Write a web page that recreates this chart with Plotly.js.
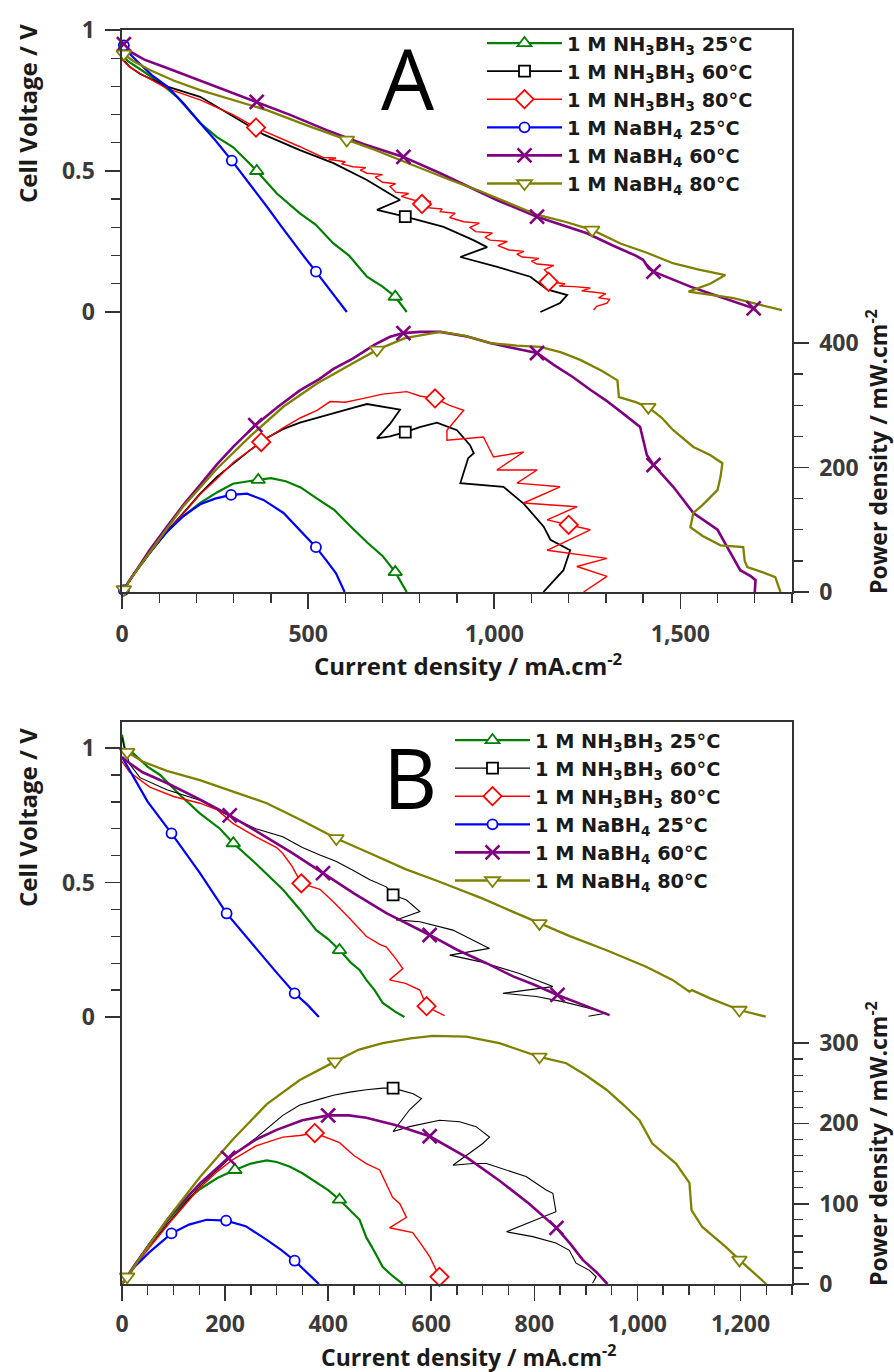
<!DOCTYPE html>
<html><head><meta charset="utf-8">
<script src="https://cdn.plot.ly/plotly-3.0.1.min.js"></script>
<style>
html,body{margin:0;padding:0;background:#fff}
#chart{width:894px;height:1372px}
</style>
</head><body><div id="chart"></div>
<script>
// ---------- labels ----------
const seriesNames = [
  '1 M NH<sub>3</sub>BH<sub>3</sub> 25°C',
  '1 M NH<sub>3</sub>BH<sub>3</sub> 60°C',
  '1 M NH<sub>3</sub>BH<sub>3</sub> 80°C',
  '1 M NaBH<sub>4</sub> 25°C',
  '1 M NaBH<sub>4</sub> 60°C',
  '1 M NaBH<sub>4</sub> 80°C'
];
const xTitle = 'Current density / mA.cm<sup>-2</sup>';
const yTitleV = 'Cell Voltage / V';
const yTitleP = 'Power density / mW.cm<sup>-2</sup>';
const panelLetters = ['A', 'B'];
const vTickVals = [0, 0.5, 1];
const vTickText = ['0', '0.5', '1'];
const vMinorVals = [0.1, 0.2, 0.3, 0.4, 0.6, 0.7, 0.8, 0.9];
const pTickValsA = [0, 200, 400];
const pMinorValsA = [50, 100, 150, 250, 300, 350];
const pTickValsB = [0, 100, 200, 300];
const pMinorValsB = [20, 40, 60, 80, 120, 140, 160, 180, 220, 240, 260, 280];

// ---------- Panel A : [current density mA/cm2, cell voltage V] ----------
const A_V_NH3_25 = [[0,0.92],[15,0.89],[50,0.86],[100,0.815],[150,0.76],[210,0.67],[255,0.62],[298,0.585],[340,0.53],[362,0.50],[416,0.42],[478,0.35],[520,0.31],[568,0.243],[610,0.20],[658,0.125],[700,0.09],[734,0.054],[765,0.0]];
const A_V_NH3_60 = [[0,0.90],[20,0.87],[48,0.845],[120,0.80],[210,0.763],[299,0.692],[380,0.63],[478,0.574],[568,0.528],[658,0.468],[729,0.409],[747,0.397],[685,0.362],[761,0.338],[864,0.302],[944,0.255],[981,0.23],[909,0.195],[1008,0.16],[1097,0.125],[1142,0.08],[1196,0.06],[1177,0.032],[1124,0.0]];
const A_V_NH3_80 = [[0,0.894],[20,0.87],[48,0.846],[120,0.793],[210,0.752],[299,0.699],[360,0.654],[420,0.62],[478,0.586],[540,0.548],[575,0.546],[555,0.54],[568,0.539],[600,0.533],[590,0.525],[620,0.515],[655,0.512],[640,0.503],[658,0.492],[700,0.487],[680,0.478],[700,0.46],[735,0.455],[720,0.445],[735,0.425],[770,0.42],[750,0.41],[783,0.397],[830,0.392],[806,0.383],[820,0.37],[860,0.365],[855,0.356],[895,0.35],[880,0.335],[918,0.32],[960,0.315],[935,0.30],[950,0.285],[995,0.28],[975,0.265],[989,0.255],[1035,0.25],[1010,0.235],[1040,0.22],[1080,0.215],[1061,0.205],[1075,0.195],[1120,0.19],[1100,0.18],[1115,0.17],[1160,0.165],[1135,0.15],[1150,0.13],[1140,0.115],[1146,0.107],[1190,0.10],[1175,0.092],[1215,0.09],[1258,0.085],[1235,0.075],[1270,0.07],[1300,0.065],[1280,0.05],[1310,0.045],[1303,0.031],[1275,0.02],[1267,0.007]];
const A_V_Na_25 = [[0,0.95],[10,0.93],[40,0.89],[80,0.84],[121,0.80],[165,0.74],[210,0.67],[250,0.61],[295,0.537],[340,0.46],[389,0.374],[430,0.30],[461,0.244],[490,0.195],[521,0.143],[560,0.075],[590,0.025],[604,0.0]];
const A_V_Na_60 = [[0,0.96],[5,0.95],[20,0.925],[60,0.895],[121,0.865],[210,0.82],[290,0.78],[362,0.745],[450,0.70],[550,0.645],[650,0.595],[756,0.55],[855,0.492],[930,0.445],[1007,0.397],[1115,0.338],[1180,0.31],[1249,0.279],[1320,0.235],[1380,0.20],[1400,0.185],[1415,0.155],[1428,0.143],[1480,0.115],[1527,0.09],[1570,0.07],[1616,0.049],[1660,0.03],[1697,0.013],[1702,0.005]];
const A_V_Na_80 = [[0,0.92],[5,0.915],[30,0.89],[75,0.858],[140,0.82],[210,0.787],[300,0.75],[389,0.716],[500,0.66],[604,0.61],[680,0.575],[747,0.539],[820,0.50],[882,0.468],[960,0.43],[1040,0.385],[1115,0.345],[1190,0.32],[1263,0.291],[1339,0.243],[1410,0.21],[1482,0.172],[1550,0.15],[1621,0.131],[1580,0.10],[1522,0.072],[1580,0.06],[1643,0.049],[1715,0.025],[1773,0.007]];

// Panel A : [current density, power density mW/cm2]
const A_P_NH3_25 = [[0,0],[30,27],[75,63],[120,98],[165,122],[210,143],[255,160],[298,174],[340,178],[366,180],[400,183],[440,178],[480,168],[524,150],[570,132],[613,106],[658,80],[700,58],[734,32],[765,0]];
const A_P_NH3_60 = [[0,0],[35,31],[75,63],[120,97],[165,127],[210,158],[255,185],[300,207],[344,228],[390,248],[434,262],[478,272],[524,280],[568,288],[620,296],[658,302],[703,297],[747,293],[720,270],[685,247],[720,250],[761,257],[800,265],[846,272],[900,260],[935,236],[945,223],[930,215],[909,175],[960,172],[1025,169],[1079,142],[1133,105],[1151,84],[1204,67],[1186,35],[1160,18],[1132,0]];
const A_P_NH3_80 = [[0,0],[35,31],[75,64],[120,96],[165,126],[210,157],[255,182],[300,209],[374,241],[434,264],[480,280],[524,292],[559,306],[600,305],[649,311],[700,318],[765,322],[800,315],[841,311],[880,300],[918,292],[873,260],[873,244],[971,249],[998,217],[1079,225],[1007,196],[1115,196],[1061,175],[1177,169],[1079,143],[1222,137],[1142,116],[1200,108],[1258,100],[1142,67],[1303,54],[1222,41],[1303,25],[1240,0]];
const A_P_Na_25 = [[0,0],[30,28],[75,64],[120,96],[165,122],[210,141],[250,150],[293,156],[336,158],[380,148],[434,127],[480,98],[521,72],[550,50],[575,30],[598,0]];
const A_P_Na_60 = [[0,0],[30,28],[75,68],[121,105],[165,140],[210,172],[255,205],[300,234],[358,268],[420,298],[478,324],[530,342],[567,358],[620,375],[680,398],[720,410],[756,416],[800,418],[855,418],[930,410],[989,400],[1050,392],[1115,384],[1160,365],[1212,345],[1258,325],[1300,308],[1350,285],[1392,265],[1400,245],[1410,220],[1428,204],[1481,169],[1535,127],[1580,108],[1600,100],[1626,72],[1661,35],[1690,25],[1702,19],[1700,0]];
const A_P_Na_80 = [[0,0],[5,4],[30,27],[75,64],[165,138],[255,198],[344,250],[434,298],[524,335],[613,365],[685,389],[760,408],[820,415],[855,418],[920,412],[989,400],[1060,396],[1124,394],[1180,385],[1231,373],[1290,355],[1331,340],[1335,313],[1380,305],[1414,297],[1450,280],[1481,260],[1535,233],[1580,220],[1613,207],[1608,185],[1600,164],[1560,140],[1535,127],[1527,104],[1560,90],[1608,75],[1669,72],[1673,50],[1680,40],[1720,32],[1755,24],[1769,0]];

// Panel A marker positions
const A_VM_NH3_25 = [[362,0.50],[734,0.054]];
const A_VM_NH3_60 = [[761,0.338]];
const A_VM_NH3_80 = [[360,0.654],[806,0.383],[1146,0.107]];
const A_VM_Na_25 = [[5,0.945],[295,0.537],[521,0.143]];
const A_VM_Na_60 = [[5,0.95],[362,0.745],[756,0.55],[1115,0.338],[1428,0.143],[1697,0.013]];
const A_VM_Na_80 = [[5,0.915],[604,0.61],[1263,0.291]];
const A_PM_NH3_25 = [[366,180],[734,32]];
const A_PM_NH3_60 = [[761,257]];
const A_PM_NH3_80 = [[374,241],[841,311],[1200,108]];
const A_PM_Na_25 = [[5,3],[293,156],[521,72]];
const A_PM_Na_60 = [[358,268],[756,416],[1115,384],[1428,204]];
const A_PM_Na_80 = [[5,4],[685,389],[1414,297]];

// ---------- Panel B : [current density, cell voltage] ----------
const B_V_NH3_25 = [[0,1.05],[5,1.0],[22,0.98],[50,0.93],[74,0.90],[110,0.83],[151,0.757],[190,0.70],[216,0.646],[260,0.57],[313,0.472],[345,0.40],[377,0.323],[400,0.29],[422,0.249],[445,0.20],[461,0.175],[474,0.138],[490,0.10],[506,0.052],[530,0.02],[548,0.0]];
const B_V_NH3_60 = [[0,1.04],[5,1.0],[15,0.94],[35,0.89],[87,0.845],[151,0.806],[215,0.74],[260,0.70],[312,0.67],[350,0.63],[384,0.602],[416,0.578],[448,0.546],[481,0.51],[513,0.484],[526,0.454],[552,0.435],[578,0.392],[532,0.361],[578,0.354],[642,0.323],[694,0.274],[713,0.255],[636,0.23],[694,0.206],[771,0.162],[836,0.113],[739,0.088],[804,0.076],[855,0.057],[920,0.026],[939,0.014],[905,0.003]];
const B_V_NH3_80 = [[0,0.95],[15,0.91],[54,0.855],[100,0.82],[151,0.795],[185,0.77],[215,0.72],[260,0.67],[300,0.63],[312,0.608],[330,0.56],[348,0.497],[384,0.475],[409,0.43],[440,0.37],[474,0.30],[500,0.27],[513,0.26],[530,0.22],[545,0.18],[519,0.138],[550,0.125],[578,0.10],[591,0.04],[610,0.02],[626,0.005]];
const B_V_Na_25 = [[0,0.967],[20,0.90],[50,0.80],[96,0.683],[151,0.536],[203,0.385],[240,0.30],[267,0.237],[300,0.165],[335,0.088],[360,0.045],[382,0.0]];
const B_V_Na_60 = [[0,0.967],[10,0.95],[40,0.91],[87,0.87],[150,0.81],[209,0.75],[270,0.68],[330,0.61],[390,0.535],[450,0.46],[513,0.386],[560,0.34],[597,0.305],[650,0.25],[707,0.20],[760,0.15],[800,0.12],[845,0.082],[900,0.04],[946,0.007]];
const B_V_Na_80 = [[0,1.0],[10,0.985],[40,0.95],[87,0.915],[151,0.881],[215,0.84],[281,0.795],[350,0.73],[416,0.664],[480,0.61],[550,0.55],[616,0.503],[700,0.44],[760,0.39],[810,0.348],[870,0.30],[939,0.249],[980,0.215],[1017,0.187],[1068,0.138],[1090,0.11],[1101,0.094],[1106,0.10],[1140,0.07],[1198,0.026],[1249,0.001]];

// Panel B : [current density, power density]
const B_P_NH3_25 = [[0,0],[22,20],[54,51],[90,80],[118,100],[151,118],[185,132],[219,142],[250,150],[281,154],[300,152],[326,146],[350,138],[378,126],[400,117],[422,105],[445,90],[461,80],[474,58],[485,46],[506,21],[525,10],[545,0]];
const B_P_NH3_60 = [[0,0],[35,32],[87,74],[151,122],[215,160],[260,182],[312,210],[345,223],[377,229],[410,235],[442,239],[474,242],[506,244],[526,244],[565,237],[581,231],[558,217],[526,190],[558,196],[590,200],[616,204],[655,202],[687,196],[713,183],[700,175],[642,148],[681,150],[707,150],[746,142],[784,134],[823,117],[836,113],[842,90],[746,65],[797,59],[842,51],[868,42],[881,26],[907,17],[920,9],[913,1]];
const B_P_NH3_80 = [[0,0],[20,18],[54,46],[100,82],[151,120],[185,140],[215,155],[260,172],[312,183],[345,185],[374,188],[400,182],[422,176],[450,160],[474,150],[500,142],[525,108],[539,100],[552,83],[519,70],[564,64],[580,50],[597,34],[616,9],[620,0]];
const B_P_Na_25 = [[0,0],[25,22],[54,40],[96,63],[130,74],[164,80],[202,79],[240,72],[281,55],[310,42],[335,29],[360,14],[382,0]];
const B_P_Na_60 = [[0,0],[25,24],[54,50],[100,90],[151,125],[206,157],[260,180],[300,192],[350,204],[400,210],[440,210],[474,207],[530,198],[597,184],[668,158],[732,129],[790,100],[843,70],[870,50],[894,30],[920,15],[942,0]];
const B_P_Na_80 = [[0,0],[10,9],[40,37],[87,80],[151,133],[215,180],[281,224],[345,254],[413,277],[460,292],[506,300],[560,306],[603,309],[668,308],[732,300],[810,283],[862,275],[900,260],[940,242],[975,222],[1004,204],[1029,175],[1060,158],[1075,150],[1101,126],[1105,92],[1126,71],[1150,58],[1172,46],[1198,30],[1225,15],[1250,0]];

// Panel B marker positions
const B_VM_NH3_25 = [[216,0.646],[422,0.249]];
const B_VM_NH3_60 = [[526,0.454]];
const B_VM_NH3_80 = [[348,0.497],[591,0.04]];
const B_VM_Na_25 = [[96,0.683],[203,0.385],[335,0.088]];
const B_VM_Na_60 = [[209,0.75],[390,0.535],[597,0.305],[845,0.082]];
const B_VM_Na_80 = [[10,0.985],[416,0.664],[810,0.348],[1198,0.026]];
const B_PM_NH3_25 = [[219,142],[422,105]];
const B_PM_NH3_60 = [[526,244]];
const B_PM_NH3_80 = [[374,188],[616,9]];
const B_PM_Na_25 = [[96,63],[202,79],[335,29]];
const B_PM_Na_60 = [[206,157],[400,210],[597,184],[843,70]];
const B_PM_Na_80 = [[10,9],[413,277],[810,283],[1198,30]];

// ---------- styles ----------
const colors = ['#008000', '#000000', '#ff0000', '#0000ff', '#800080', '#808000'];
const symbols = ['triangle-up', 'square', 'diamond', 'circle', 'x-thin', 'triangle-down'];
const markerSizes = [12, 11, 14, 10, 14, 13];
const lineWidthsA = [2.2, 1.8, 1.4, 2.2, 2.6, 2.3];
const lineWidthsB = [2.2, 1.1, 1.4, 2.2, 2.6, 2.3];

const panels = [
  { V: [A_V_NH3_25, A_V_NH3_60, A_V_NH3_80, A_V_Na_25, A_V_Na_60, A_V_Na_80],
    P: [A_P_NH3_25, A_P_NH3_60, A_P_NH3_80, A_P_Na_25, A_P_Na_60, A_P_Na_80],
    VM: [A_VM_NH3_25, A_VM_NH3_60, A_VM_NH3_80, A_VM_Na_25, A_VM_Na_60, A_VM_Na_80],
    PM: [A_PM_NH3_25, A_PM_NH3_60, A_PM_NH3_80, A_PM_Na_25, A_PM_Na_60, A_PM_Na_80],
    xa: 'x', yv: 'y', yp: 'y2', legend: 'legend', widths: lineWidthsA },
  { V: [B_V_NH3_25, B_V_NH3_60, B_V_NH3_80, B_V_Na_25, B_V_Na_60, B_V_Na_80],
    P: [B_P_NH3_25, B_P_NH3_60, B_P_NH3_80, B_P_Na_25, B_P_Na_60, B_P_Na_80],
    VM: [B_VM_NH3_25, B_VM_NH3_60, B_VM_NH3_80, B_VM_Na_25, B_VM_Na_60, B_VM_Na_80],
    PM: [B_PM_NH3_25, B_PM_NH3_60, B_PM_NH3_80, B_PM_Na_25, B_PM_Na_60, B_PM_Na_80],
    xa: 'x2', yv: 'y3', yp: 'y4', legend: 'legend2', widths: lineWidthsB }
];

function markerStyle(k) {
  const isX = symbols[k] === 'x-thin';
  return {
    symbol: symbols[k], size: markerSizes[k],
    color: isX ? colors[k] : '#ffffff',
    line: { color: colors[k], width: isX ? 2.6 : 1.8 }
  };
}
const xs = pts => pts.map(p => p[0]);
const ys = pts => pts.map(p => p[1]);

const traces = [];
panels.forEach(pn => {
  for (let k = 0; k < 6; k++) {
    [['V', pn.yv], ['P', pn.yp]].forEach(([key, ya]) => {
      traces.push({ x: xs(pn[key][k]), y: ys(pn[key][k]), xaxis: pn.xa, yaxis: ya, type: 'scatter',
        mode: 'lines', line: { color: colors[k], width: pn.widths[k] }, showlegend: false, hoverinfo: 'skip' });
    });
  }
  for (let k = 0; k < 6; k++) {
    [['VM', pn.yv], ['PM', pn.yp]].forEach(([key, ya]) => {
      traces.push({ x: xs(pn[key][k]), y: ys(pn[key][k]), xaxis: pn.xa, yaxis: ya, type: 'scatter',
        mode: 'markers', marker: markerStyle(k), showlegend: false, hoverinfo: 'skip', cliponaxis: false });
    });
  }
  for (let k = 0; k < 6; k++) {
    traces.push({ x: [null], y: [null], xaxis: pn.xa, yaxis: pn.yv, type: 'scatter', mode: 'lines+markers',
      name: seriesNames[k], legend: pn.legend, line: { color: colors[k], width: pn.widths[k] },
      marker: markerStyle(k), showlegend: true });
  }
});

const tickFont = { family: 'Open Sans', size: 23, color: '#3a3a3a', weight: 'bold' };
const axisCommon = { showgrid: false, zeroline: false, showline: true, linecolor: '#333', linewidth: 1.6,
  ticks: 'outside', ticklen: 15, tickwidth: 1.6, tickcolor: '#333', tickfont: tickFont };
const minorCommon = { ticks: 'outside', ticklen: 9, tickwidth: 1.4, tickcolor: '#333', showgrid: false };

const domX = [122 / 894, 792 / 894];
const domA = [(1372 - 592) / 1372, (1372 - 30) / 1372];
const domB = [(1372 - 1284) / 1372, (1372 - 722) / 1372];

const titleFont = { family: 'Open Sans', size: 24, color: '#1a1a1a', weight: 'bold' };
const titleFontP = { family: 'Open Sans', size: 23, color: '#1a1a1a', weight: 'bold' };
const legendFont = { family: 'DejaVu Sans', size: 19.3, color: '#1a1a1a', weight: 'bold' };

function note(text, px, py, extra) {
  return Object.assign({ text: text, xref: 'paper', yref: 'paper', x: px / 894, y: 1 - py / 1372,
    xanchor: 'center', yanchor: 'middle', showarrow: false, font: titleFont }, extra || {});
}

const layout = {
  width: 894, height: 1372, margin: { l: 0, r: 0, t: 0, b: 0 },
  paper_bgcolor: '#fff', plot_bgcolor: '#fff', font: { family: 'Open Sans' },
  xaxis: Object.assign({}, axisCommon, { domain: domX, anchor: 'y', range: [0, 1800], tick0: 0, dtick: 500,
    tickformat: ',d', mirror: true, ticklabelstandoff: 6,
    minor: Object.assign({}, minorCommon, { tick0: 0, dtick: 100 }) }),
  yaxis: Object.assign({}, axisCommon, { domain: domA, anchor: 'x', range: [-0.993, 1.0], tickmode: 'array',
    tickvals: vTickVals, ticktext: vTickText, mirror: true, ticklabelstandoff: 6,
    minor: Object.assign({}, minorCommon, { tickmode: 'array', tickvals: vMinorVals }) }),
  yaxis2: Object.assign({}, axisCommon, { overlaying: 'y', anchor: 'x', side: 'right', range: [0, 903],
    tickmode: 'array', tickvals: pTickValsA, ticklabelstandoff: 6,
    minor: Object.assign({}, minorCommon, { tickmode: 'array', tickvals: pMinorValsA }) }),
  xaxis2: Object.assign({}, axisCommon, { domain: domX, anchor: 'y3', range: [0, 1300], tick0: 0, dtick: 200,
    tickformat: ',d', mirror: true, ticklabelstandoff: 4,
    minor: Object.assign({}, minorCommon, { tick0: 0, dtick: 50 }) }),
  yaxis3: Object.assign({}, axisCommon, { domain: domB, anchor: 'x2', range: [-0.993, 1.097], tickmode: 'array',
    tickvals: vTickVals, ticktext: vTickText, mirror: true, ticklabelstandoff: 6,
    minor: Object.assign({}, minorCommon, { tickmode: 'array', tickvals: vMinorVals }) }),
  yaxis4: Object.assign({}, axisCommon, { overlaying: 'y3', anchor: 'x2', side: 'right', range: [0, 700],
    tickmode: 'array', tickvals: pTickValsB, ticklabelstandoff: 6,
    minor: Object.assign({}, minorCommon, { tickmode: 'array', tickvals: pMinorValsB }) }),
  legend: { x: 482 / 894, y: 1 - 24 / 1372, xanchor: 'left', yanchor: 'top', bgcolor: 'rgba(0,0,0,0)',
    borderwidth: 0, font: legendFont, itemwidth: 75, tracegroupgap: 0 },
  legend2: { x: 450 / 894, y: 1 - 721 / 1372, xanchor: 'left', yanchor: 'top', bgcolor: 'rgba(0,0,0,0)',
    borderwidth: 0, font: legendFont, itemwidth: 75, tracegroupgap: 0 },
  annotations: [
    note(panelLetters[0], 408, 77, { font: { family: 'Open Sans', size: 84, color: '#000' } }),
    note(panelLetters[1], 410, 776, { font: { family: 'Open Sans', size: 84, color: '#000' } }),
    note(yTitleV, 27, 114, { textangle: -90 }),
    note(yTitleV, 27, 818, { textangle: -90 }),
    note(yTitleP, 877, 452, { textangle: -90, font: titleFontP }),
    note(yTitleP, 877, 1144, { textangle: -90, font: titleFontP }),
    note(xTitle, 468, 664),
    note(xTitle, 468, 1356, { font: { family: 'Open Sans', size: 23, color: '#1a1a1a', weight: 'bold' } })
  ]
};

Plotly.newPlot('chart', traces, layout, { displayModeBar: false, staticPlot: true });
</script>
</body></html>
